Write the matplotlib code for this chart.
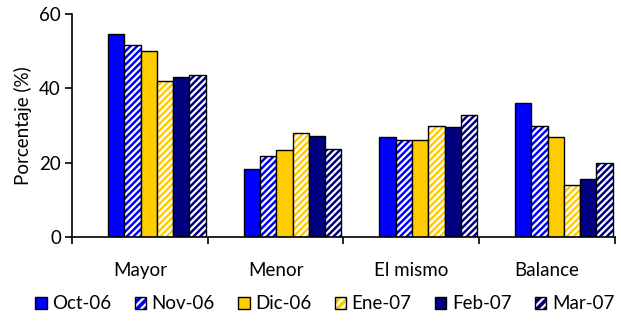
import matplotlib as mpl
mpl.use('Agg')
import matplotlib.pyplot as plt
from matplotlib.patches import Patch
import numpy as np

categories = ['Mayor', 'Menor', 'El mismo', 'Balance']
series = ['Oct-06', 'Nov-06', 'Dic-06', 'Ene-07', 'Feb-07', 'Mar-07']
values = {
    'Oct-06': [54.6, 18.4, 27.0, 36.1],
    'Nov-06': [51.7, 21.8, 26.2, 29.9],
    'Dic-06': [50.1, 23.5, 26.2, 27.0],
    'Ene-07': [42.0, 28.0, 29.9, 13.9],
    'Feb-07': [43.0, 27.3, 29.6, 15.6],
    'Mar-07': [43.7, 23.8, 32.7, 19.8],
}
colors = ['#0000FF', '#0000FF', '#FFCC00', '#FFCC00', '#000080', '#000080']
hatched = [False, True, False, True, False, True]

plt.rcParams['font.family'] = ['Lato', 'DejaVu Sans']
plt.rcParams['hatch.linewidth'] = 1.6

fig = plt.figure(figsize=(6.21, 3.26), dpi=100)
ax = fig.add_axes([0.116, 0.273, 0.874, 0.684])

centers = np.arange(len(categories)) + 0.5
width = 0.12
handles = []
for i, name in enumerate(series):
    x = centers - 0.235 + i * width
    if hatched[i]:
        ax.bar(x, values[name], width, align='edge', color=colors[i],
               edgecolor='white', hatch='/////', linewidth=0)
        ax.bar(x, values[name], width, align='edge', fill=False,
               edgecolor='black', linewidth=1)
        h = (Patch(facecolor=colors[i], edgecolor='white', hatch='////', linewidth=0),
             Patch(fill=False, edgecolor='black', linewidth=1))
    else:
        ax.bar(x, values[name], width, align='edge', color=colors[i],
               edgecolor='black', linewidth=1)
        h = Patch(facecolor=colors[i], edgecolor='black', linewidth=1)
    handles.append(h)

ax.set_xlim(0, 4)
ax.set_ylim(0, 60)
ax.set_yticks([0, 20, 40, 60])
ax.set_xticks([0, 1, 2, 3, 4])
ax.set_xticklabels([])
ax.set_xticks(centers, minor=True)
ax.set_xticklabels(categories, minor=True)
ax.tick_params(axis='x', which='minor', length=0, pad=18, labelsize=13.5)
ax.tick_params(axis='x', which='major', length=5, width=1.2)
ax.tick_params(axis='y', length=5, width=1.2, labelsize=13.5, pad=3)
ax.spines['top'].set_visible(False)
ax.spines['right'].set_visible(False)
ax.spines['left'].set_linewidth(1.2)
ax.spines['bottom'].set_linewidth(1.2)
ax.set_ylabel('Porcentaje (%)', fontsize=13.5, labelpad=5)

fig.legend(handles, series, loc='lower center', bbox_to_anchor=(0.523, -0.01),
           ncol=6, frameon=False, fontsize=13.5, handlelength=0.6,
           handleheight=0.6, handletextpad=0.3, columnspacing=1.25)

fig.savefig('out.png')
plt.close()
